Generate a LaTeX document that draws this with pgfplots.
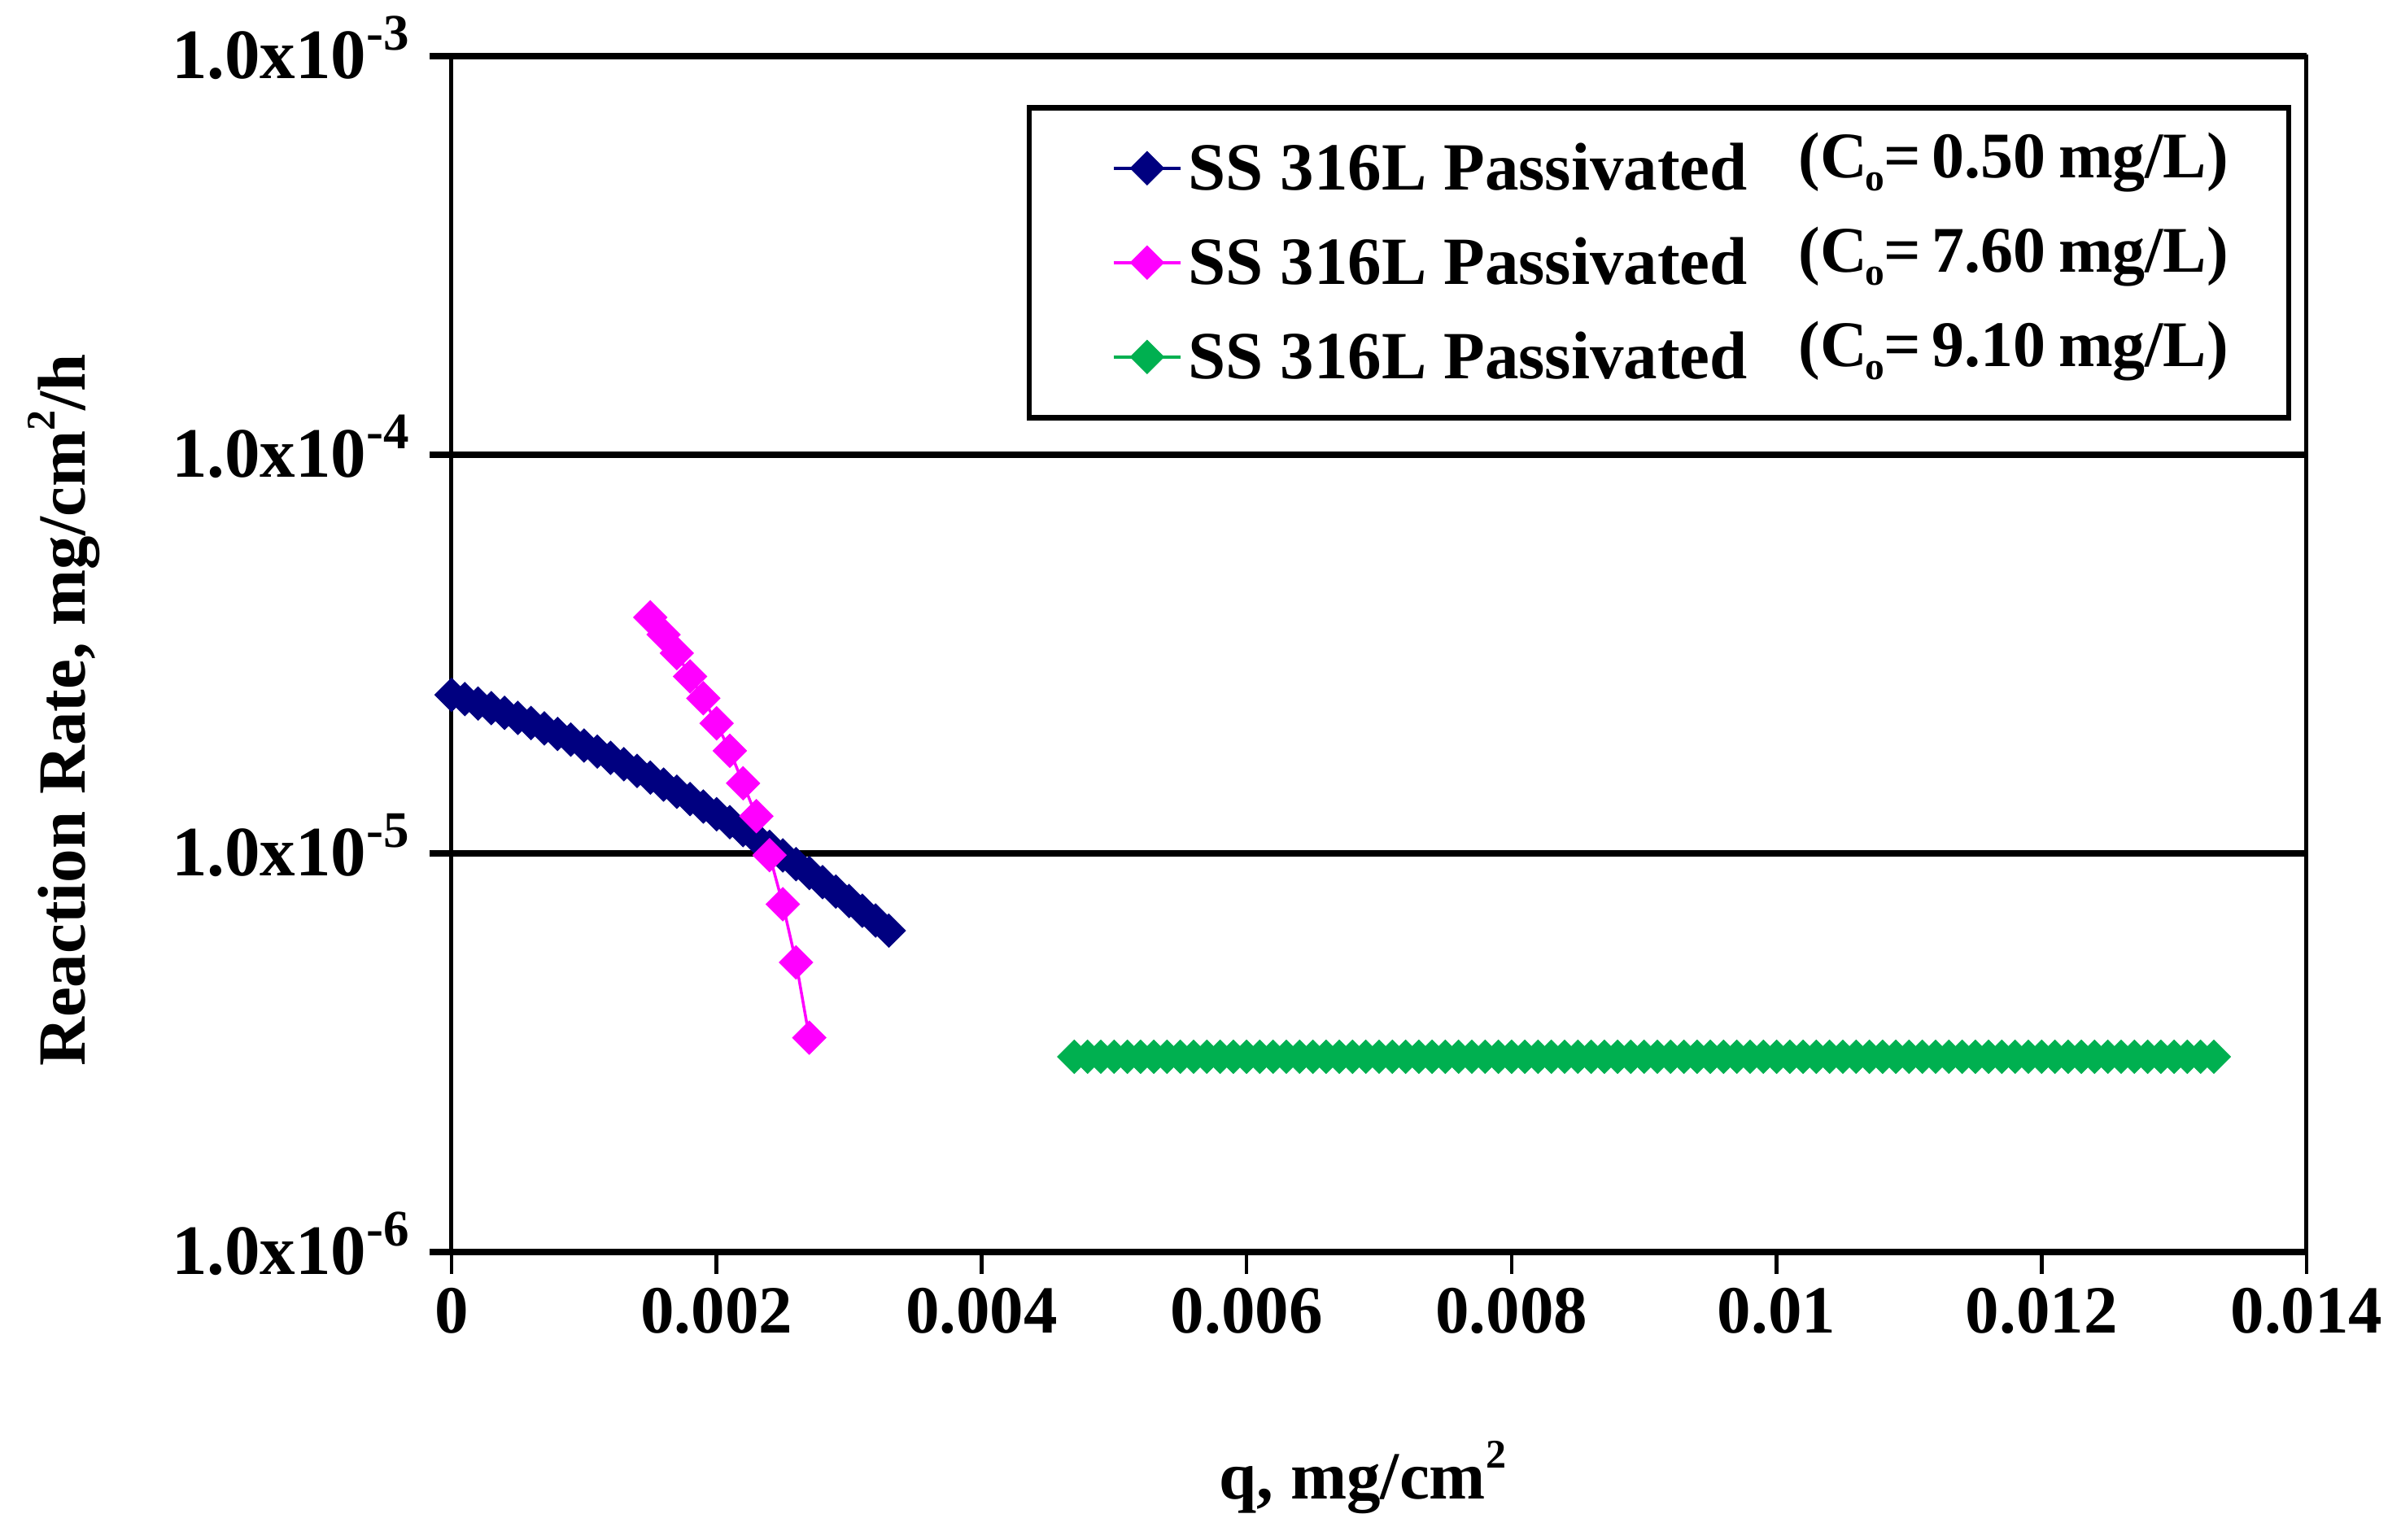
\documentclass[border=0pt]{standalone}
\usepackage{fontspec}
\setmainfont{Liberation Serif}
\usepackage{pgfplots}
\pgfplotsset{compat=1.18}
\definecolor{navyb}{RGB}{0,0,128}
\definecolor{magp}{RGB}{255,0,255}
\definecolor{grn}{RGB}{0,176,80}
\newcommand\bigfont{\bfseries\fontsize{16.6}{20}\selectfont}
\newcommand\yfont{\bfseries\fontsize{17.4}{20}\selectfont}
\newcommand\sups[1]{\raisebox{0.45em}{\fontsize{10}{12}\selectfont #1}}
\newcommand\ysups[1]{\raisebox{0.40em}{\fontsize{12.6}{13}\selectfont #1}}
\newcommand\subo{\kern-0.04em\raisebox{-0.2em}{\fontsize{9.5}{12}\selectfont o}}
\newcommand\entry[1]{\makebox[150pt][l]{SS 316L Passivated}\raisebox{3pt}{\makebox[120.4pt][l]{\fontsize{16}{20}\selectfont(C\subo=\hspace{0.16em}#1\hspace{0.2em}mg/L)}}}
\begin{document}
\begin{tikzpicture}
\begin{axis}[
  at={(0,0)}, anchor=south west,
  scale only axis, width=456pt, height=294pt,
  clip=false,
  ymode=log, ymin=1e-6, ymax=1e-3,
  xmin=0, xmax=0.014,
  scaled x ticks=false,
  xtick={0,0.002,0.004,0.006,0.008,0.01,0.012,0.014},
  xticklabels={0,0.002,0.004,0.006,0.008,0.01,0.012,0.014},
  ytick={1e-6,1e-5,1e-4,1e-3},
  yticklabels={1.0x10\ysups{-6},1.0x10\ysups{-5},1.0x10\ysups{-4},1.0x10\ysups{-3}},
  yminorticks=false,
  ymajorgrids,
  grid style={black, line width=1.5pt},
  axis line style={black, line width=1pt},
  tick align=outside, major tick length=5.4pt,
  xtick pos=bottom, ytick pos=left,
  xtick style={black, line width=0.9pt},
  ytick style={black, line width=1.5pt},
  xticklabel style={font=\bigfont},
  yticklabel style={font=\yfont, anchor=base east, yshift=-5.4pt, xshift=-1.5pt},
  label style={font=\bigfont},
  xlabel={q, mg/cm\sups{2}},
  ylabel={Reaction Rate, mg/cm\sups{2}/h},
  xlabel style={at={(axis description cs:0.4912,-0.1884)}, anchor=center},
  ylabel style={at={(axis description cs:-0.2088,0.453)}, anchor=center},
  legend style={at={(axis description cs:0.9917,0.9592)}, anchor=north east,
    draw=black, line width=1.3pt, fill=white, inner xsep=0pt, inner ysep=3.3pt,
    nodes={inner sep=0pt, font=\bigfont, text height=16.9pt, text depth=6.3pt},
    row sep=0pt, column sep=0pt,
    cells={anchor=west}},
  legend image code/.code={\path[draw=none,fill=none] (-20.8pt,0pt) -- (18.4pt,0pt);
    \draw[mark repeat=2,mark phase=2,#1] plot coordinates {(0pt,0pt) (8.2pt,0pt) (16.4pt,0pt)};},
]
\addplot[navyb, line width=0.7pt, mark=square*, mark size=2.9pt,
  mark options={rotate=45, solid, fill=navyb, draw=navyb, line width=0.2pt}]
table {
x y
0 2.500e-5
0.0001 2.439e-5
0.0002 2.377e-5
0.0003 2.315e-5
0.0004 2.252e-5
0.0005 2.188e-5
0.0006 2.124e-5
0.0007 2.059e-5
0.0008 1.994e-5
0.0009 1.930e-5
0.0010 1.865e-5
0.0011 1.801e-5
0.0012 1.737e-5
0.0013 1.674e-5
0.0014 1.611e-5
0.0015 1.550e-5
0.0016 1.488e-5
0.0017 1.428e-5
0.0018 1.369e-5
0.0019 1.311e-5
0.0020 1.254e-5
0.0021 1.198e-5
0.0022 1.144e-5
0.0023 1.091e-5
0.0024 1.039e-5
0.0025 9.888e-6
0.0026 9.400e-6
0.0027 8.929e-6
0.0028 8.469e-6
0.0029 8.022e-6
0.0030 7.597e-6
0.0031 7.183e-6
0.0032 6.786e-6
0.0033 6.404e-6
};
\addlegendentry{\entry{0.50}}
\addplot[magp, line width=0.7pt, mark=square*, mark size=2.9pt,
  mark options={rotate=45, solid, fill=magp, draw=magp, line width=0.2pt}]
table {
x y
0.0015 3.91e-5
0.0016 3.54e-5
0.0017 3.18e-5
0.0018 2.78e-5
0.0019 2.45e-5
0.0020 2.12e-5
0.0021 1.81e-5
0.0022 1.50e-5
0.0023 1.24e-5
0.0024 9.9e-6
0.0025 7.46e-6
0.0026 5.33e-6
0.0027 3.45e-6
};
\addlegendentry{\entry{7.60}}
\addplot[grn, line width=0.7pt, mark=square*, mark size=2.9pt,
  mark options={rotate=45, solid, fill=grn, draw=grn, line width=0.2pt}]
coordinates {
(0.0047,3.09e-6) (0.0048,3.09e-6) (0.0049,3.09e-6) (0.0050,3.09e-6)
(0.0051,3.09e-6) (0.0052,3.09e-6) (0.0053,3.09e-6) (0.0054,3.09e-6)
(0.0055,3.09e-6) (0.0056,3.09e-6) (0.0057,3.09e-6) (0.0058,3.09e-6)
(0.0059,3.09e-6) (0.0060,3.09e-6) (0.0061,3.09e-6) (0.0062,3.09e-6)
(0.0063,3.09e-6) (0.0064,3.09e-6) (0.0065,3.09e-6) (0.0066,3.09e-6)
(0.0067,3.09e-6) (0.0068,3.09e-6) (0.0069,3.09e-6) (0.0070,3.09e-6)
(0.0071,3.09e-6) (0.0072,3.09e-6) (0.0073,3.09e-6) (0.0074,3.09e-6)
(0.0075,3.09e-6) (0.0076,3.09e-6) (0.0077,3.09e-6) (0.0078,3.09e-6)
(0.0079,3.09e-6) (0.0080,3.09e-6) (0.0081,3.09e-6) (0.0082,3.09e-6)
(0.0083,3.09e-6) (0.0084,3.09e-6) (0.0085,3.09e-6) (0.0086,3.09e-6)
(0.0087,3.09e-6) (0.0088,3.09e-6) (0.0089,3.09e-6) (0.0090,3.09e-6)
(0.0091,3.09e-6) (0.0092,3.09e-6) (0.0093,3.09e-6) (0.0094,3.09e-6)
(0.0095,3.09e-6) (0.0096,3.09e-6) (0.0097,3.09e-6) (0.0098,3.09e-6)
(0.0099,3.09e-6) (0.0100,3.09e-6) (0.0101,3.09e-6) (0.0102,3.09e-6)
(0.0103,3.09e-6) (0.0104,3.09e-6) (0.0105,3.09e-6) (0.0106,3.09e-6)
(0.0107,3.09e-6) (0.0108,3.09e-6) (0.0109,3.09e-6) (0.0110,3.09e-6)
(0.0111,3.09e-6) (0.0112,3.09e-6) (0.0113,3.09e-6) (0.0114,3.09e-6)
(0.0115,3.09e-6) (0.0116,3.09e-6) (0.0117,3.09e-6) (0.0118,3.09e-6)
(0.0119,3.09e-6) (0.0120,3.09e-6) (0.0121,3.09e-6) (0.0122,3.09e-6)
(0.0123,3.09e-6) (0.0124,3.09e-6) (0.0125,3.09e-6) (0.0126,3.09e-6)
(0.0127,3.09e-6) (0.0128,3.09e-6) (0.0129,3.09e-6) (0.0130,3.09e-6)
(0.0131,3.09e-6) (0.0132,3.09e-6) (0.0133,3.09e-6)
};
\addlegendentry{\entry{9.10}}
\end{axis}
\pgfresetboundingbox
\path[use as bounding box] (-111pt,-70.6pt) rectangle (479.2pt,307.8pt);
\end{tikzpicture}
\end{document}
